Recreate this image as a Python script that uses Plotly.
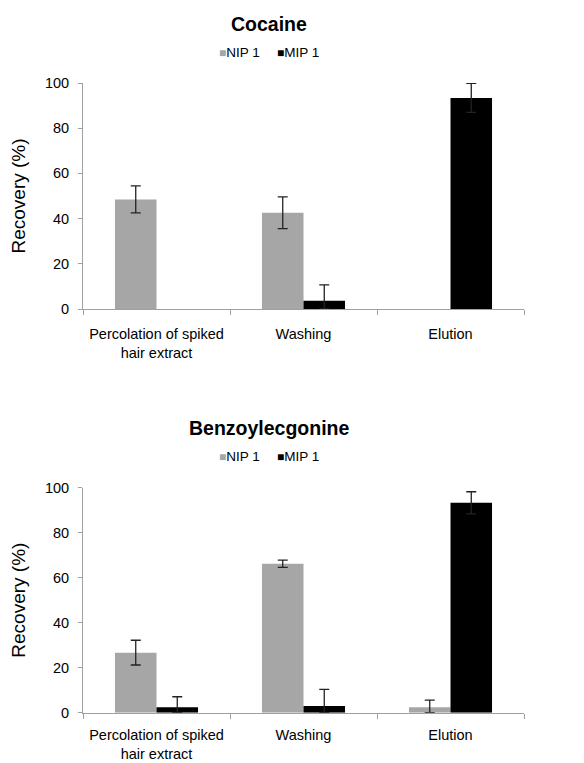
import plotly.graph_objects as go

categories = ["Percolation of spiked<br>hair extract", "Washing", "Elution"]
series_names = ["NIP 1", "MIP 1"]
colors = ["#a6a6a6", "#000000"]

cocaine_nip = [48.5, 42.6, 0.0]
cocaine_nip_err = [6.0, 7.0, 0.0]
cocaine_mip = [0.0, 3.7, 93.4]
cocaine_mip_err = [0.0, 7.0, 6.4]

bze_nip = [26.7, 66.2, 2.4]
bze_nip_err = [5.5, 1.6, 3.2]
bze_mip = [2.4, 3.0, 93.3]
bze_mip_err = [4.7, 7.4, 4.9]

titles = ["Cocaine", "Benzoylecgonine"]
y_ticks = [0, 20, 40, 60, 80, 100]
y_title = "Recovery (%)"

FONT = "Liberation Sans, Arial, sans-serif"
AXIS_COLOR = "#a0a0a0"

fig = go.Figure()

panels = [
    (cocaine_nip, cocaine_nip_err, cocaine_mip, cocaine_mip_err),
    (bze_nip, bze_nip_err, bze_mip, bze_mip_err),
]

W, H = 584, 763
x_dom = [83 / W, 524 / W]
y_doms = [[1 - 309 / H, 1 - 83 / H], [1 - 712.7 / H, 1 - 487.7 / H]]
title_y = [24, 428]
legend_y = [52, 456]
legend_x = [217, 275]

for i, (nip, nip_e, mip, mip_e) in enumerate(panels):
    xa = "x" if i == 0 else "x2"
    ya = "y" if i == 0 else "y2"
    for vals, errs, name, col in [(nip, nip_e, series_names[0], colors[0]),
                                  (mip, mip_e, series_names[1], colors[1])]:
        # zero-height bars have no visible bar nor error bar
        shown = [v if v > 0 else None for v in vals]
        minus = [min(e, v) for v, e in zip(vals, errs)]
        fig.add_trace(go.Bar(
            x=categories, y=shown, name=name, marker_color=col,
            marker_line_width=0,
            error_y=dict(type="data", symmetric=False, array=errs, arrayminus=minus,
                         color="#222222", thickness=1.3, width=5, visible=True),
            xaxis=xa, yaxis=ya, showlegend=False,
        ))
    fig.add_annotation(text="<b>%s</b>" % titles[i], x=269 / W, y=1 - title_y[i] / H,
                       xref="paper", yref="paper", showarrow=False,
                       font=dict(family=FONT, size=19.5, color="#000"),
                       xanchor="center", yanchor="middle")
    for n, c, lx in zip(series_names, colors, legend_x):
        fig.add_annotation(
            text="<span style='color:%s;font-size:12px'>■</span>%s" % (c, n),
            x=lx / W, y=1 - legend_y[i] / H,
            xref="paper", yref="paper", showarrow=False,
            font=dict(family=FONT, size=13.5, color="#000"),
            xanchor="left", yanchor="middle")

axis_common_x = dict(showline=True, linecolor=AXIS_COLOR, linewidth=1,
                     ticks="outside", tickson="boundaries", ticklen=5,
                     tickcolor=AXIS_COLOR, showgrid=False, zeroline=False,
                     tickfont=dict(family=FONT, size=14.5, color="#000"),
                     automargin=False, domain=x_dom)
axis_common_y = dict(showline=True, linecolor=AXIS_COLOR, linewidth=1,
                     ticks="outside", ticklen=4, tickcolor=AXIS_COLOR,
                     showgrid=False, zeroline=False, range=[0, 100],
                     tickvals=y_ticks, ticktext=[str(t) for t in y_ticks],
                     tickfont=dict(family=FONT, size=14.5, color="#000"),
                     ticklabelstandoff=6, automargin=False,
                     title=dict(text=y_title, font=dict(family=FONT, size=19, color="#000"),
                                standoff=14))

fig.update_layout(
    width=W, height=H,
    margin=dict(l=0, r=0, t=0, b=0),
    paper_bgcolor="white", plot_bgcolor="white",
    barmode="group", bargap=0.435, bargroupgap=0,
    showlegend=False,
    font=dict(family=FONT, size=13, color="#000"),
    xaxis=dict(**axis_common_x, anchor="y", ticklabelstandoff=12),
    yaxis=dict(**axis_common_y, domain=y_doms[0], anchor="x"),
    xaxis2=dict(**axis_common_x, anchor="y2", ticklabelstandoff=9),
    yaxis2=dict(**axis_common_y, domain=y_doms[1], anchor="x2"),
)

fig.write_html("out.html")
